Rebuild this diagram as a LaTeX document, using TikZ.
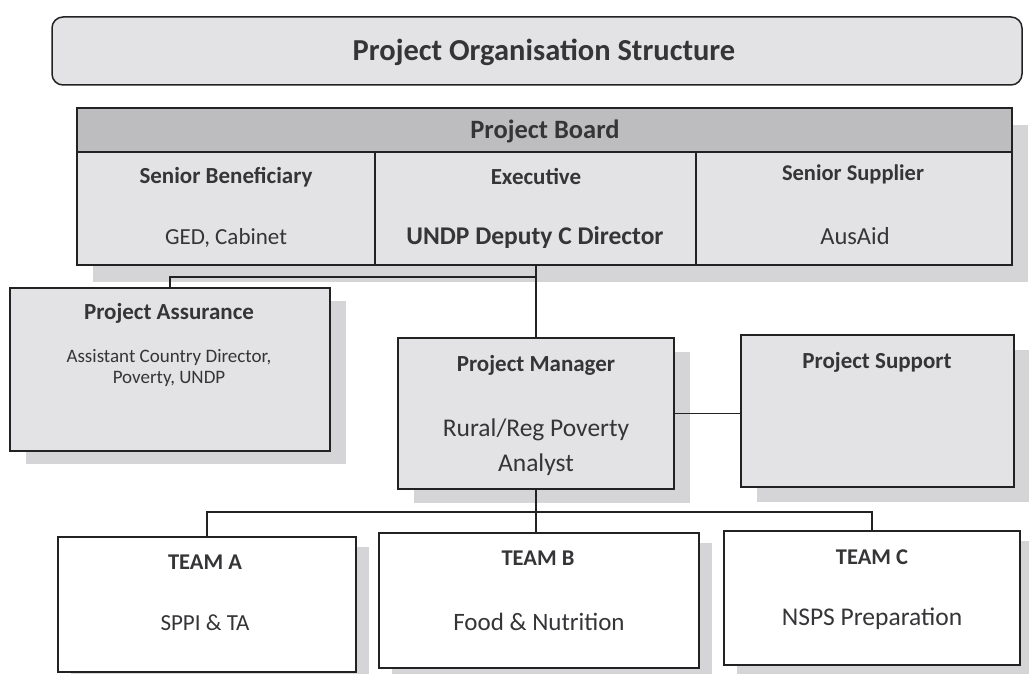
\documentclass[tikz,border=0pt]{standalone}
\usepackage{fontspec}
\setmainfont{Carlito}
\usetikzlibrary{shadows}
\definecolor{boxfill}{HTML}{E3E3E6}
\definecolor{shadowc}{HTML}{D5D5D8}
\definecolor{headfill}{HTML}{BDBDC0}
\definecolor{txt}{HTML}{353538}
\definecolor{ln}{HTML}{222222}
\tikzset{
  box/.style={draw=ln, line width=1.5pt, fill=boxfill, inner sep=0pt, rectangle},
  wbox/.style={box, fill=white},
  dshadow/.style 2 args={drop shadow={shadow xshift=#1, shadow yshift=#2, fill=shadowc, opacity=1}},
  conn/.style={draw=ln, line width=1.6pt},
  hd/.style={text=txt, inner sep=0pt, font=\bfseries\fontsize{#1}{#1}\selectfont},
  tx/.style={text=txt, inner sep=0pt, font=\fontsize{#1}{#1}\selectfont},
}
\begin{document}
\begin{tikzpicture}[x=1pt,y=-1pt]
\useasboundingbox (0,0) rectangle (1029,674);
% title
\node[box, rounded corners=11pt, minimum width=970pt, minimum height=68pt] (title) at (537,51) {};
\node[hd=30.5] (ttitle) at (544,52) {Project Organisation Structure};
% board
\node[box, dshadow={16pt}{-17pt}, minimum width=935pt, minimum height=157pt] (board) at (544.5,186.5) {};
\node[box, fill=headfill, minimum width=935pt, minimum height=44pt] (head) at (544.5,130) {};
\node[box, minimum width=298pt, minimum height=113pt] (sb) at (226,208.5) {};
\node[box, minimum width=321pt, minimum height=113pt] (ex) at (535.5,208.5) {};
\node[box, minimum width=316pt, minimum height=113pt] (ss) at (854,208.5) {};
\node[hd=26.5] (tboard) at (545,131) {Project Board};
\node[hd=23] (tsb) at (226,177) {Senior Beneficiary};
\node[hd=23] (tex) at (536,176) {Executive};
\node[hd=22.5] (tss) at (853,174) {Senior Supplier};
\node[tx=23] (tsb2) at (226,238) {GED, Cabinet};
\node[hd=25.5] (tex2) at (535,238) {UNDP Deputy C Director};
\node[tx=24.5] (tss2) at (855,236) {AusAid};
% project assurance
\node[box, dshadow={16pt}{-13pt}, minimum width=320pt, minimum height=163pt] (pa) at (170,369.5) {};
\node[hd=23] (tpa) at (169,313) {Project Assurance};
\node[tx=19] (tpa2) at (169,357) {Assistant Country Director,};
\node[tx=19] (tpa3) at (169,379) {Poverty, UNDP};
% project manager
\node[box, dshadow={16pt}{-14pt}, minimum width=276pt, minimum height=151pt] (pm) at (536,413.5) {};
\node[hd=23] (tpm) at (536,365) {Project Manager};
\node[tx=25.5] (tpm2) at (536,430) {Rural/Reg Poverty};
\node[tx=25.5] (tpm3) at (536,465) {Analyst};
% project support
\node[box, dshadow={16pt}{-15pt}, minimum width=273pt, minimum height=152pt] (ps) at (877.5,411) {};
\node[hd=23] (tps) at (877,362) {Project Support};
% teams
\node[wbox, dshadow={13pt}{-10pt}, minimum width=298pt, minimum height=135pt] (ta) at (207,604.5) {};
\node[wbox, dshadow={13pt}{-10pt}, minimum width=320pt, minimum height=135pt] (tb) at (539,600.5) {};
\node[wbox, dshadow={13pt}{-10pt}, minimum width=296pt, minimum height=134pt] (tc) at (872,598) {};
\node[hd=22.5] (tta) at (205,562) {TEAM A};
\node[tx=23] (tta2) at (205,623) {SPPI \& TA};
\node[hd=22.5] (ttb) at (538,558) {TEAM B};
\node[tx=25] (ttb2) at (539,622) {Food \& Nutrition};
\node[hd=22.5] (ttc) at (872,557) {TEAM C};
\node[tx=25.5] (ttc2) at (872,619) {NSPS Preparation};
% connectors
\coordinate (j1) at (536,277);
\coordinate (j2) at (538,512);
\draw[conn] (pm.north |- board.south) -- (pm.north);
\draw[conn] (pa.north) -- (pa.north |- j1) -- (j1);
\draw[conn] (pm.east) -- (pm.east -| ps.west);
\draw[conn] (pm.south) -- (pm.south |- tb.north);
\draw[conn] (ta.north) -- (ta.north |- j2) -- (tc.north |- j2) -- (tc.north);
\end{tikzpicture}
\end{document}
